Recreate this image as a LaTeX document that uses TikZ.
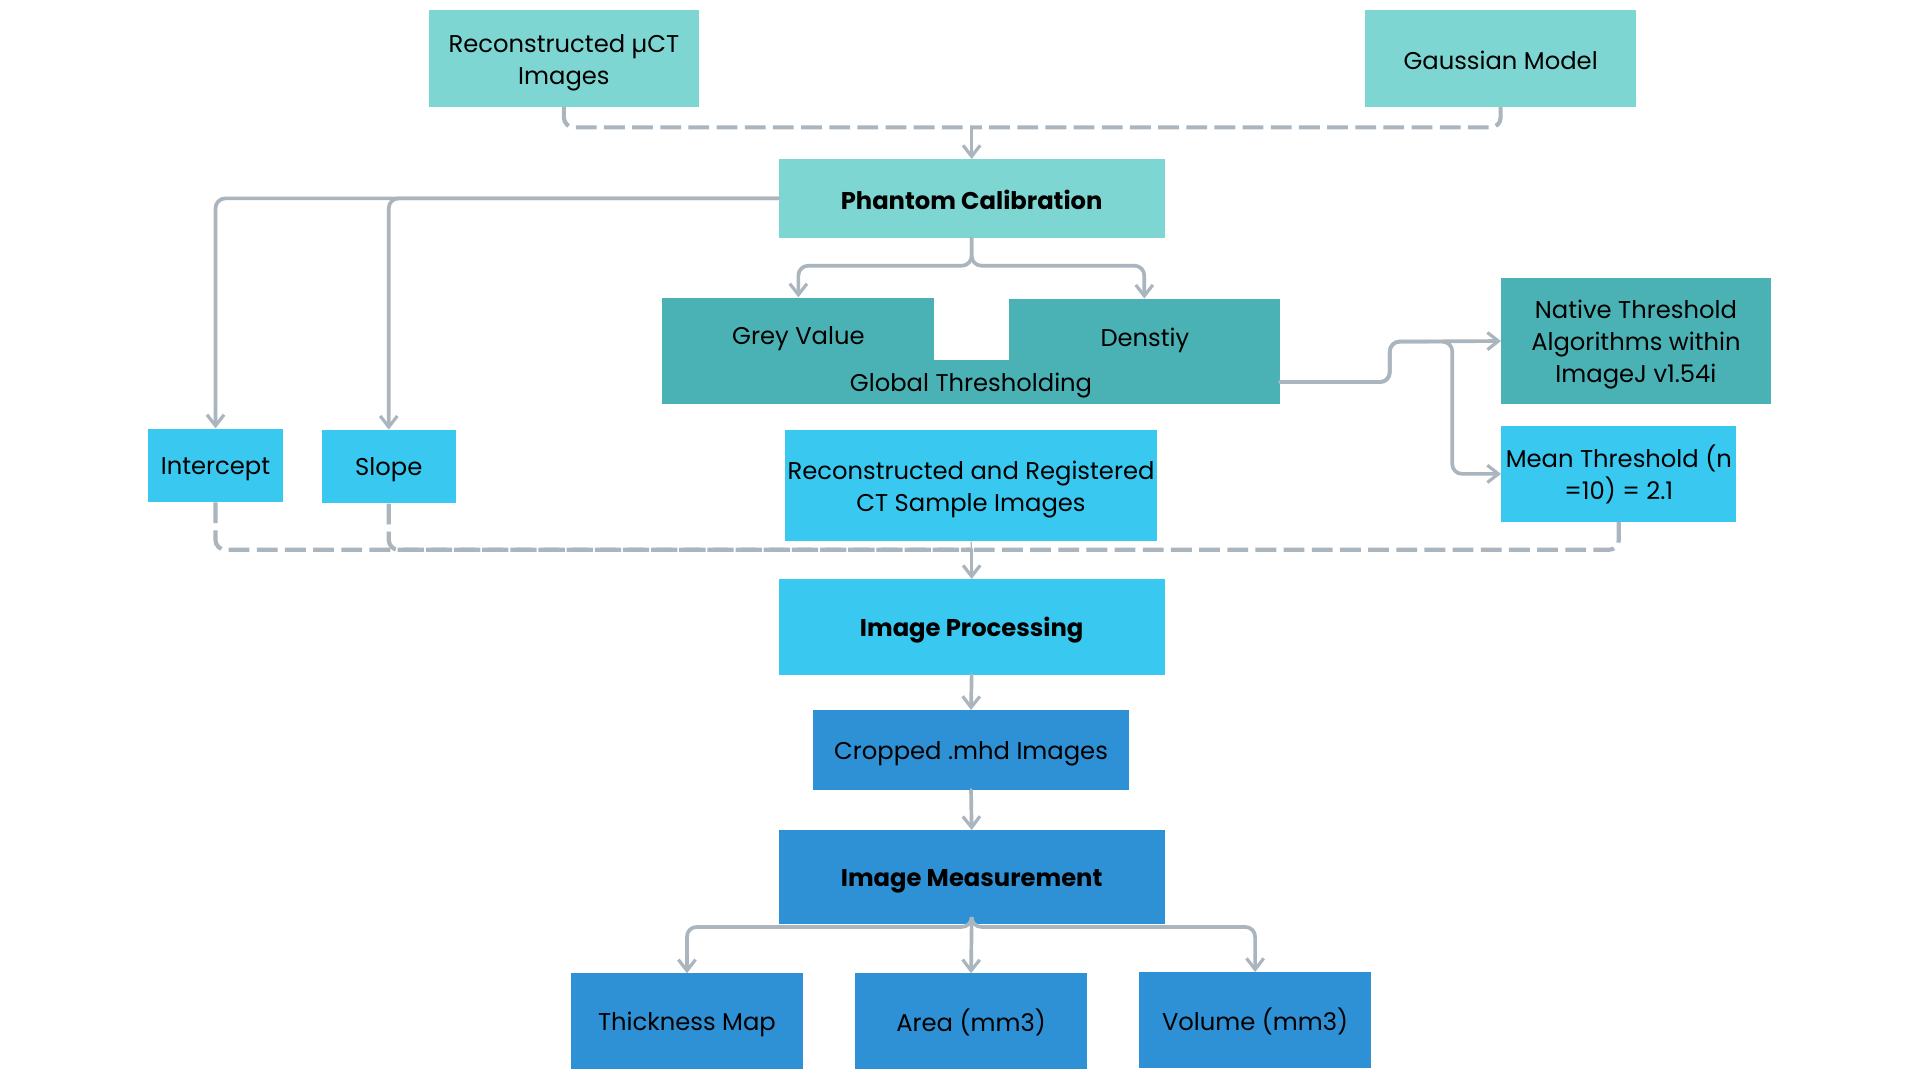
\documentclass[tikz,border=0pt]{standalone}
\usepackage{fontspec}
\setmainfont{Poppins}
\usetikzlibrary{arrows.meta}
\definecolor{lteal}{HTML}{7ED6D3}
\definecolor{dteal}{HTML}{4AB2B5}
\definecolor{lblue}{HTML}{38C8F0}
\definecolor{mblue}{HTML}{2E90D5}
\definecolor{conn}{HTML}{AAB5BE}
\newcommand\pstrutA{\rule[-2pt]{0pt}{22.5pt}}
\newcommand\pstrutB{\rule[-2pt]{0pt}{2pt}}
\begin{document}
\begin{tikzpicture}[x=1pt,y=-1pt,
  tb/.style={rectangle,draw=none,inner sep=0pt,align=center,
    font=\fontsize{19.8}{26}\selectfont,
    execute at begin node=\pstrutA,execute at end node=\pstrutB},
  bb/.style={tb,font=\fontsize{19.8}{26}\selectfont\bfseries},
  txt/.style={tb},
  link/.style={draw=conn,line width=3pt,rounded corners=8pt,line cap=round},
  arr/.style={link,-{Straight Barb[length=9pt,width=14pt,line width=2.6pt]}},
  dsh/.style={link,dash pattern=on 17pt off 6pt,line cap=butt,line width=3.4pt},
]
\useasboundingbox (0,0) rectangle (1568,882);
\fill[white] (0,0) rectangle (1568,882);

% boxes
\node[tb,fill=lteal,minimum width=221pt,minimum height=79pt] (uct) at (460.5,47.5) {};
\node[txt] (uctt) at ([yshift=-4pt]uct.center) {Reconstructed µCT\\Images};
\node[tb,fill=lteal,minimum width=221pt,minimum height=79pt] (gauss) at (1225.5,47.5) {Gaussian Model};
\node[bb,fill=lteal,minimum width=315pt,minimum height=64pt] (phantom) at (793.5,162) {Phantom Calibration};

\node[tb,fill=dteal,minimum width=222pt,minimum height=87pt] (grey) at (652,286.5) {};
\node[tb,fill=dteal,minimum width=221pt,minimum height=86pt] (dens) at (934.5,287) {};
\node[tb,fill=dteal,minimum width=504pt,minimum height=36pt] (glob) at (793,312) {Global Thresholding};
\node[txt] (greyt) at (652,274) {Grey Value};
\node[txt] (denst) at (935,275) {Denstiy};

\node[tb,fill=dteal,minimum width=220pt,minimum height=103pt] (native) at (1336,278.5) {};
\node[txt] (nativet) at ([yshift=-3pt]native.center) {Native Threshold\\Algorithms within\\ImageJ v1.54i};
\node[tb,fill=lblue,minimum width=192pt,minimum height=78pt] (mean) at (1322,387) {};
\node[txt] (meant) at ([yshift=-0.5pt]mean.center) {Mean Threshold (n\\=10) = 2.1};

\node[tb,fill=lblue,minimum width=110pt,minimum height=60pt] (icpt) at (176,380) {Intercept};
\node[tb,fill=lblue,minimum width=109pt,minimum height=60pt] (slope) at (317.5,381) {Slope};
\node[tb,fill=lblue,minimum width=304pt,minimum height=91pt] (reg) at (793,396.5) {};
\node[txt] (regt) at ([yshift=-3pt]reg.center) {Reconstructed and Registered\\CT Sample Images};

\node[bb,fill=lblue,minimum width=315pt,minimum height=78pt] (proc) at (793.5,512) {Image Processing};
\node[tb,fill=mblue,minimum width=258pt,minimum height=65pt] (crop) at (793,612.5) {Cropped .mhd Images};
\node[bb,fill=mblue,minimum width=315pt,minimum height=77pt] (meas) at (793.5,716.5) {Image Measurement};

\node[tb,fill=mblue,minimum width=190pt,minimum height=78pt] (thick) at (561,834) {Thickness Map};
\node[tb,fill=mblue,minimum width=190pt,minimum height=78pt] (area) at (793,834) {Area (mm3)};
\node[tb,fill=mblue,minimum width=190pt,minimum height=78pt] (vol) at (1025,833) {Volume (mm3)};

% top dashed merge
\coordinate (topj) at (793.5,104);
\draw[dsh] (uct.south) |- (topj);
\draw[dsh] (gauss.south) |- (topj);
\draw[arr] (topj) -- (phantom.north);

% phantom to intercept / slope
\draw[arr] (phantom.west) -| (icpt.north);
\draw[arr] (phantom.west) -| (slope.north);

% phantom to grey / density
\coordinate (pj) at (793.5,217);
\draw[arr] (phantom.south) -- (pj) -| (grey.north);
\draw[arr] (phantom.south) -- (pj) -| (dens.north);

% global to native / mean
\coordinate (g1) at (1135,312);
\coordinate (g2) at (1135,279);
\coordinate (g3) at (1186,279);
\draw[arr] (glob.east) -- (g1) -- (g2) -- (native.west);
\draw[arr] (glob.east) -- (g1) -- (g2) -- (g3) |- (mean.west);

% bottom dashed merge
\coordinate (botj) at (793.5,449);
\draw[draw=conn,line width=1pt] (reg.south) -- (botj);
\draw[dsh] (icpt.south) |- (botj);
\draw[dsh] (slope.south) |- (botj);
\draw[dsh] (mean.south) |- (botj);
\draw[arr] (botj) -- (proc.north);

\draw[arr] (proc.south) -- (crop.north);
\draw[arr] (crop.south) -- (meas.north);

% measurement split
\coordinate (mj) at (793.5,757);
\draw[arr] (meas.south) -- (mj) -| (thick.north);
\draw[arr] (meas.south) -- (area.north);
\draw[arr] (meas.south) -- (mj) -| (vol.north);
\end{tikzpicture}
\end{document}
